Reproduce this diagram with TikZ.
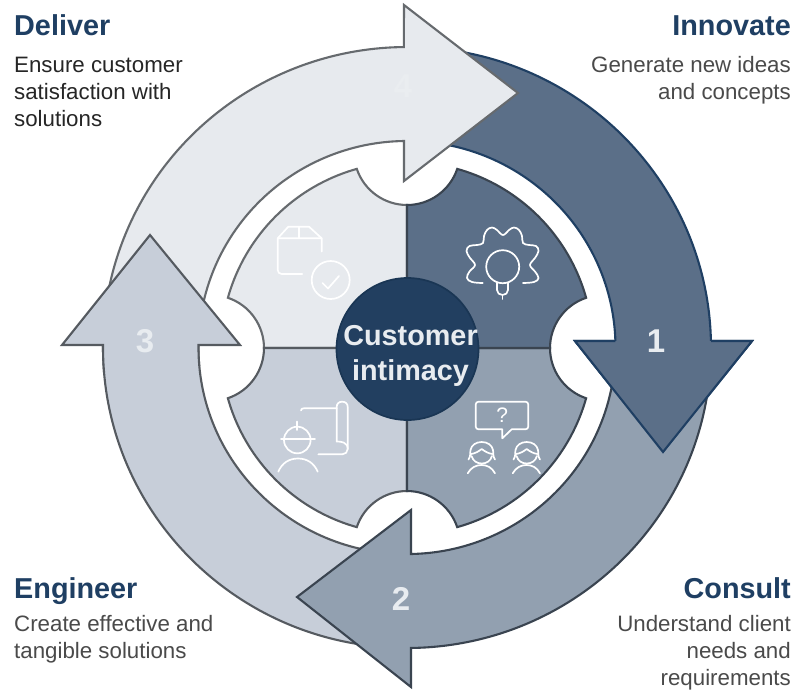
\documentclass[tikz,border=0pt]{standalone}
\usepackage{fontspec}
\setmainfont{Liberation Sans}
\definecolor{navy}{HTML}{1F3F63}
\definecolor{hubfill}{HTML}{223F60}
\definecolor{bandA}{HTML}{5B6F88}
\definecolor{bandB}{HTML}{92A0B0}
\definecolor{bandC}{HTML}{C7CED9}
\definecolor{bandD}{HTML}{E7EAEE}
\definecolor{lineA}{HTML}{1F3F63}
\definecolor{lineB}{HTML}{3A4450}
\definecolor{lineC}{HTML}{555A60}
\definecolor{lineD}{HTML}{666A6E}
\definecolor{digit}{HTML}{E8ECF0}
\definecolor{bodygrey}{HTML}{4A4A4A}
\tikzset{
  band/.style={line width=2.1pt,line join=miter},
  quad/.style={line width=2.1pt,line join=miter},
  icon/.style={draw=white,line width=1.7pt,line cap=round,line join=round},
  num/.style={anchor=base,inner sep=0pt,text=digit,font=\fontsize{33}{36}\selectfont\bfseries},
  title/.style={inner sep=0pt,text=navy,font=\fontsize{28.8}{32}\selectfont\bfseries},
  bodyL/.style={anchor=north west,align=left,inner sep=0pt,font=\fontsize{22.3}{27}\selectfont},
  bodyR/.style={anchor=north east,align=right,inner sep=0pt,text=bodygrey,font=\fontsize{22.3}{27}\selectfont},
}
\newcommand{\qshape}{(0,0) -- (0,-143) arc[start angle=90,end angle=18.6,radius=53pt]
  arc[start angle=-74.34,end angle=-15.66,radius=186pt]
  arc[start angle=251.4,end angle=180,radius=53pt] -- cycle}
\newcommand{\firstline}{\rule{0pt}{20pt}}
\newcommand{\womanicon}[1]{%
  \begin{scope}[shift={(#1,0)}]
    \draw[icon] (467.7,473.3) .. controls (471,467.5) and (476,465) .. (481.5,465) .. controls (487,465) and (492,467.5) .. (495,473.3);
    \draw[icon] (468.5,459.5) .. controls (471,456) and (470,452) .. (470.5,450) .. controls (471.5,445) and (476,442) .. (481.7,442) .. controls (487.5,442) and (492,445) .. (493,450) .. controls (493.5,452) and (492.5,456) .. (495,459.5);
    \draw[icon] (471,454) .. controls (475,453.5) and (478.5,451.5) .. (481.7,449) .. controls (485,451.5) and (488.5,453.5) .. (492.5,454);
    \draw[icon] (471.5,456) .. controls (473,461) and (477,463.5) .. (481.7,463.5) .. controls (486.5,463.5) and (490.5,461) .. (492,456);
  \end{scope}}
\begin{document}
\begin{tikzpicture}[x=1pt,y=1pt,yscale=-1]
\path[use as bounding box,fill=white] (0,0) rectangle (805,689);

% outer ring arrows
\path[band,fill=bandA,draw=lineA] (407,347.5) ++(-85:304pt and 300.5pt)
  arc[start angle=-85,end angle=-1.24,x radius=304pt,y radius=300.5pt]
  -- (752,341) -- (663,452) -- (575,341) -- (615.4,341)
  arc[start angle=-1.8,end angle=-85,x radius=208.5pt,y radius=206.5pt] -- cycle;
\path[band,fill=bandD,draw=lineD] (407,347.5) ++(175:304pt and 300.5pt)
  arc[start angle=175,end angle=269.4,x radius=304pt,y radius=300.5pt]
  -- (404,5) -- (518,93) -- (404,181) -- (404,141)
  arc[start angle=269.2,end angle=175,x radius=208.5pt,y radius=206.5pt] -- cycle;
\path[band,fill=bandC,draw=lineC] (407,347.5) ++(95:304pt and 300.5pt)
  arc[start angle=95,end angle=180.48,x radius=304pt,y radius=300.5pt]
  -- (62,345) -- (150,235) -- (240,345) -- (198.5,345)
  arc[start angle=180.7,end angle=95,x radius=208.5pt,y radius=206.5pt] -- cycle;
\path[band,fill=bandB,draw=lineB] (407,347.5) ++(5:304pt and 300.5pt)
  arc[start angle=5,end angle=89.25,x radius=304pt,y radius=300.5pt]
  -- (411,687) -- (297,597) -- (411,510) -- (411,554)
  arc[start angle=88.9,end angle=5,x radius=208.5pt,y radius=206.5pt] -- cycle;
% head of arrow 1 lies over the tail of arrow 2
\fill[bandA] (575,341) -- (752,341) -- (663,452) -- cycle;
\draw[band,draw=lineA] (615.4,341) -- (575,341) -- (663,452) -- (752,341) -- (711,341);

% inner quadrants
\begin{scope}[shift={(407,348)}]
  \path[quad,fill=bandD,draw=lineD,rotate=-90] \qshape;
  \path[quad,fill=bandC,draw=lineC,rotate=180] \qshape;
  \path[quad,fill=bandB,draw=lineB,rotate=90] \qshape;
  \path[quad,fill=bandA,draw=lineB] \qshape;
\end{scope}

% idea icon
\draw[icon] plot[smooth,tension=.65] coordinates {(482.7,283) (472,282) (467,278) (469.5,271.5) (475,265) (470,258) (466.5,251) (469.5,246) (477,245) (483,243) (484,236) (487,230) (492,227.5) (497,230) (503,235) (509,230) (514,227.5) (519,230) (522,236) (523,243) (529,245) (536,246) (538.5,251) (535,258) (530,265) (535,271.5) (538.5,278) (534,282) (523,283)};
\draw[icon] (502.7,266.7) circle[radius=16.5pt];
\draw[icon] (497,283) -- (497,290) .. controls (497,293) and (499.5,295) .. (502.5,295) .. controls (505.5,295) and (508,293) .. (508,290) -- (508,283);
\draw[icon] (502.5,295) -- (502.5,299);

% consult icon
\draw[icon] (478.5,401.7) -- (525.5,401.7) arc[start angle=-90,end angle=0,radius=2.8pt] -- (528.3,426.5) arc[start angle=0,end angle=90,radius=2.8pt] -- (511.7,429.3) -- (502.3,438.3) -- (502.3,429.3) -- (478.5,429.3) arc[start angle=90,end angle=180,radius=2.8pt] -- (475.7,404.5) arc[start angle=180,end angle=270,radius=2.8pt] -- cycle;
\node[inner sep=0pt,text=white,font=\fontsize{21}{24}\selectfont] (qmark) at (502.3,415.5) {?};
\womanicon{0}
\womanicon{45}

% engineer icon
\draw[icon] (297.3,440) circle[radius=13.3pt];
\draw[icon] (281,439) -- (315,439);
\draw[icon] (297.3,421.5) -- (297.3,430);
\draw[icon] (278.3,471.7) .. controls (282,463) and (289,458.5) .. (298,458.5) .. controls (307,458.5) and (314,463) .. (317.7,471.7);
\draw[icon] (301,410.5) .. controls (301,409) and (302,408.3) .. (304,408.3) -- (336.7,408.3);
\draw[icon] (336.7,441.5) -- (336.7,407) .. controls (336.7,403.5) and (339,401.7) .. (342.2,401.7) .. controls (345.4,401.7) and (347.7,403.5) .. (347.7,407) -- (347.7,449) arc[start angle=0,end angle=90,radius=5.3pt] -- (318.3,454.3);
\draw[icon] (336.7,441.5) .. controls (341,441.5) and (347.7,442) .. (347.7,449);

% deliver icon
\draw[icon] (302.3,274) -- (281.7,274) arc[start angle=90,end angle=180,radius=4pt] -- (277.7,238.3) -- (321.7,238.3) -- (321.7,251.5);
\draw[icon] (277.7,238.3) -- (288.3,226.7) -- (309,226.7) -- (321.7,238.3);
\draw[icon] (299,226.7) -- (299,238.3);
\draw[icon] (330.7,280) circle[radius=19pt];
\draw[icon] (322.5,283) -- (328,288.5) -- (339,276);

% centre
\node[circle,fill=hubfill,draw=navy!85!black,line width=1.7pt,minimum size=142pt,inner sep=0pt] (hub) at (407.5,349) {};
\node[anchor=north,align=center,inner sep=0pt,text=digit,font=\fontsize{28.8}{35}\selectfont\bfseries] (hubtext) at (410.5,323) {\rule{0pt}{22pt}Customer\\intimacy};

% step numbers
\node[num] (n1) at (656,352) {1};
\node[num] (n2) at (401,610) {2};
\node[num] (n3) at (145,352) {3};
\node[num,text=bandD!88!white] (n4) at (403,97) {4};

% labels
\node[title,anchor=base west] (t4) at (14,35) {Deliver};
\node[bodyL,text=black!85] (b4) at (14,52) {\firstline Ensure customer\\satisfaction with\\solutions};
\node[title,anchor=base east] (t1) at (791,35) {Innovate};
\node[bodyR] (b1) at (791,52) {\firstline Generate new ideas\\and concepts};
\node[title,anchor=base west] (t3) at (14,598) {Engineer};
\node[bodyL,text=bodygrey] (b3) at (14,611) {\firstline Create effective and\\tangible solutions};
\node[title,anchor=base east] (t2) at (791,598) {Consult};
\node[bodyR] (b2) at (791,611) {\firstline Understand client\\needs and\\requirements};
\end{tikzpicture}
\end{document}
